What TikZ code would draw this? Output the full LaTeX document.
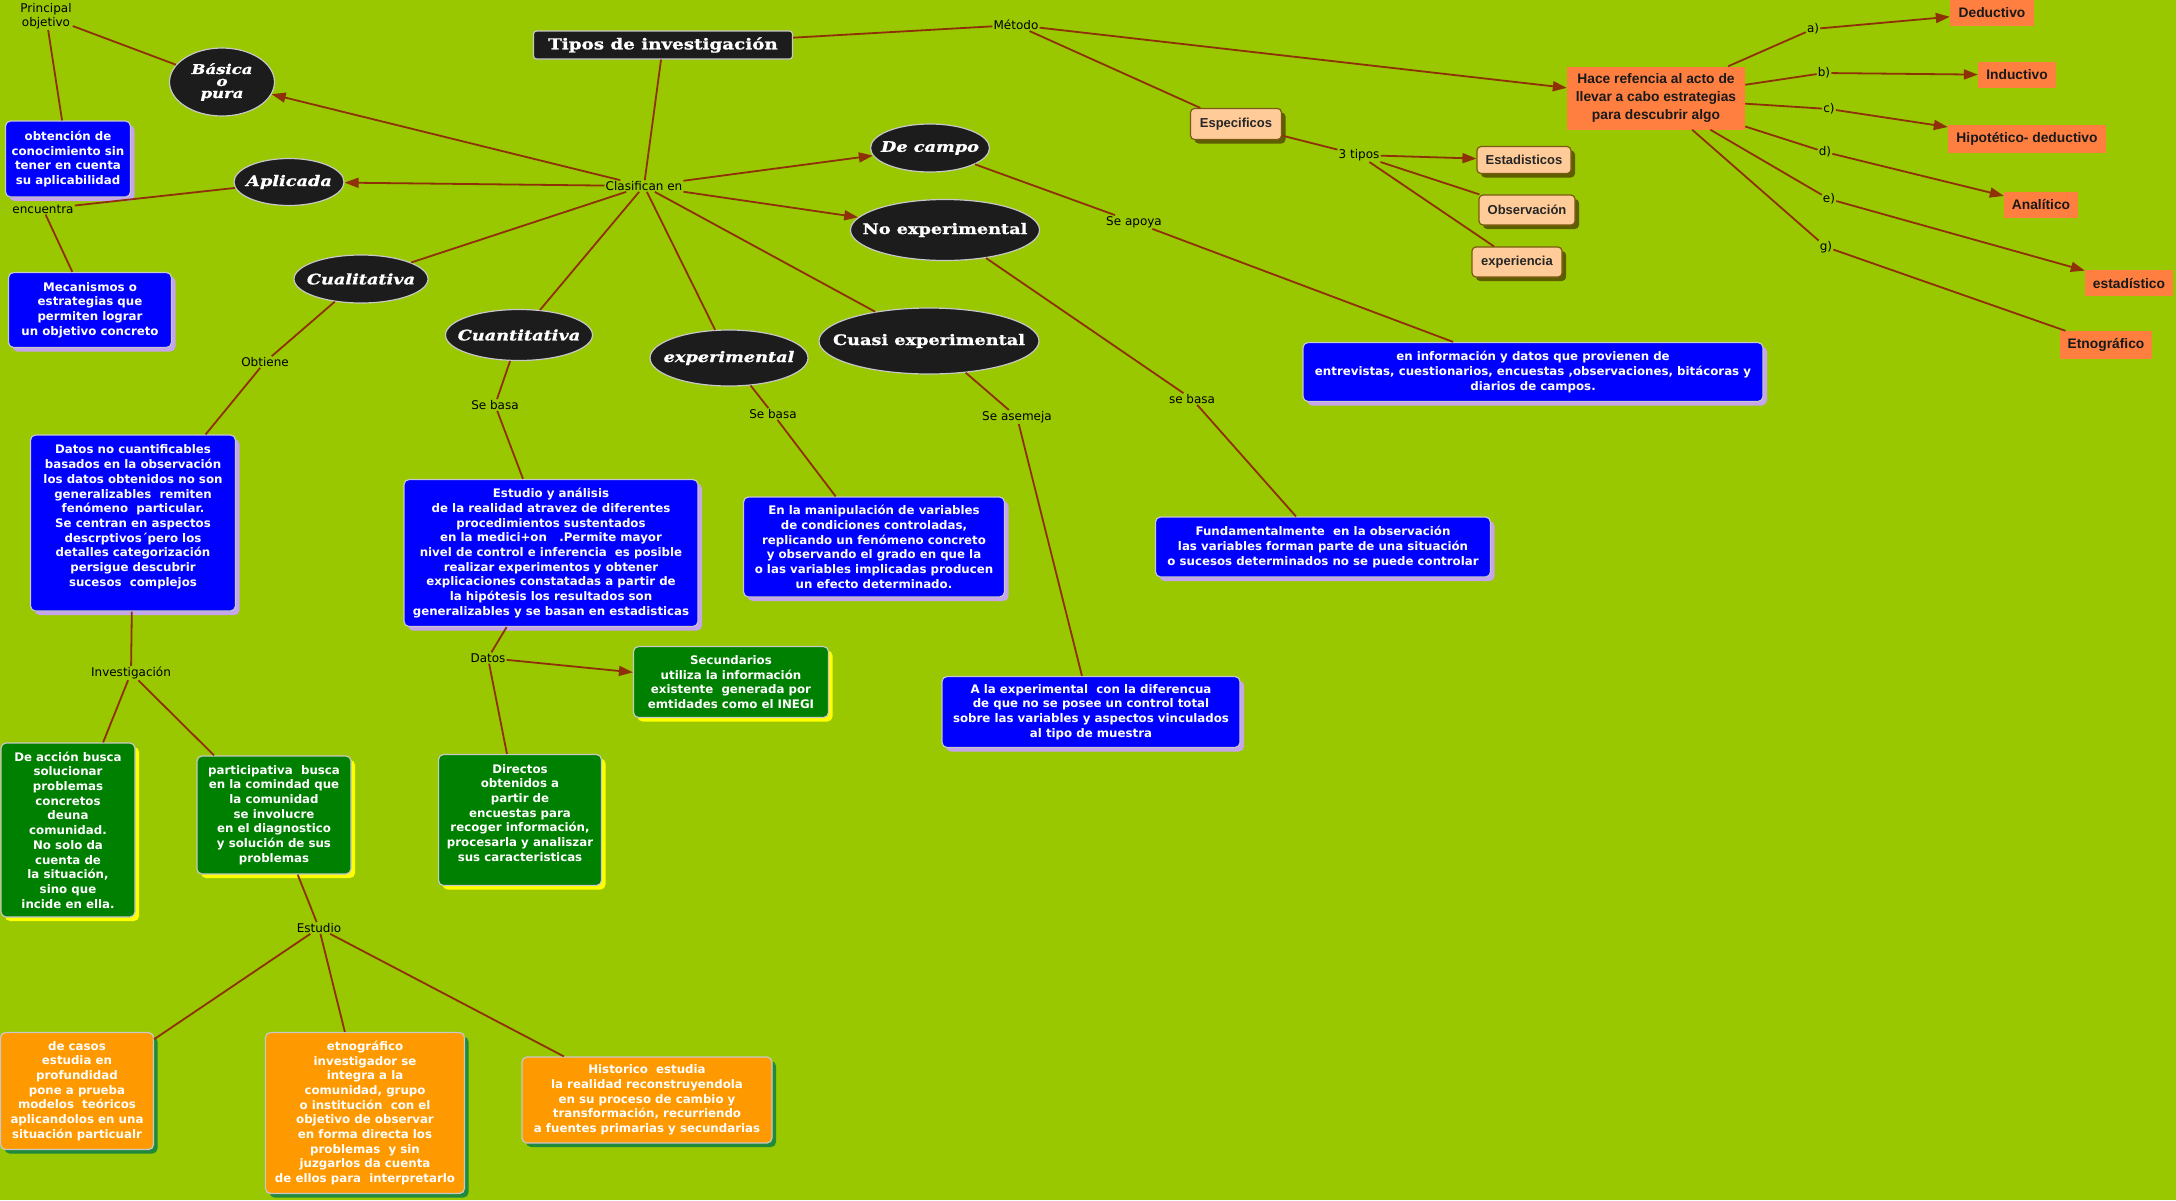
\documentclass[tikz,border=0pt]{standalone}
\usepackage{fontspec}
\setmainfont{DejaVu Sans}
\newfontfamily\titlefont{DejaVu Serif}[FakeStretch=1.22,FakeBold=1.2]
\newfontfamily\arialfont{Liberation Sans}
\usetikzlibrary{arrows.meta,shapes.geometric,shadows}
\definecolor{Lime}{HTML}{99C800}
\definecolor{Brick}{HTML}{8E3008}
\definecolor{Coal}{HTML}{1C1C1C}
\definecolor{Silver}{HTML}{C8C8C8}
\definecolor{BoxBlue}{HTML}{0000FF}
\definecolor{Lilac}{HTML}{C6A4EE}
\definecolor{BoxGreen}{HTML}{008000}
\definecolor{Lemon}{HTML}{FFFF00}
\definecolor{BoxOrange}{HTML}{FF9900}
\definecolor{Shade}{HTML}{1F8A3C}
\definecolor{Coral}{HTML}{FF7F40}
\definecolor{Peach}{HTML}{FFCC99}
\definecolor{Olive}{HTML}{7A5A10}
\definecolor{Moss}{HTML}{5E5E00}

\begin{document}
\begin{tikzpicture}[x=1pt,y=-1pt,
  sz/.style 2 args={minimum width=#1pt,minimum height=#2pt},
  link/.style={Brick,line width=1.8pt},
  tip/.style={link,-{Triangle[length=14pt,width=10pt]}},
  lbl/.style={inner sep=1pt,align=center,font=\fontsize{12}{14}\selectfont},
  tipo/.style={ellipse,fill=Coal,draw=Silver,line width=1.2pt,text=white,inner xsep=-30pt,inner ysep=0pt,align=center,
    font=\titlefont\bfseries\fontsize{14.5}{12.5}\selectfont},
  tipoit/.style={tipo,font=\titlefont\bfseries\itshape\fontsize{14.5}{12.5}\selectfont},
  box/.style={rectangle,rounded corners=5pt,draw=Silver,line width=1.2pt,text=white,inner sep=2pt,align=center,
    font=\bfseries\fontsize{11.8}{14.7}\selectfont},
  bluebox/.style={box,fill=BoxBlue,drop shadow={shadow xshift=4pt,shadow yshift=-4pt,fill=Lilac,opacity=1}},
  greenbox/.style={box,fill=BoxGreen,drop shadow={shadow xshift=4pt,shadow yshift=-4pt,fill=Lemon,opacity=1}},
  orangebox/.style={box,fill=BoxOrange,drop shadow={shadow xshift=4pt,shadow yshift=-4pt,fill=Shade,opacity=1}},
  peach/.style={rectangle,rounded corners=4pt,fill=Peach,draw=Olive,line width=1.2pt,text=black!85,inner sep=2pt,
    font=\arialfont\bfseries\fontsize{13}{15}\selectfont,drop shadow={shadow xshift=4pt,shadow yshift=-4pt,fill=Moss,opacity=1}},
  metbox/.style={rectangle,fill=Coral,text=black!90,inner sep=2pt,align=center,
    font=\arialfont\bfseries\fontsize{13.8}{18}\selectfont}]
  \path[use as bounding box,fill=Lime] (0,0) rectangle (2176,1200);

  % main types
  \node[tipo,sz={259}{28},rectangle,rounded corners=3pt,inner xsep=2pt,font=\titlefont\bfseries\fontsize{15}{14}\selectfont] (tipos) at (663,45) {Tipos de investigación};
  \node[tipoit,sz={105}{68},font=\titlefont\bfseries\itshape\fontsize{13.5}{12}\selectfont] (basica) at (222,82) {Básica\\o\\pura};
  \node[tipoit,sz={110}{47}] (aplicada) at (289,182) {Aplicada};
  \node[tipoit,sz={134}{48}] (cualitativa) at (361,279) {Cualitativa};
  \node[tipoit,sz={147}{51}] (cuantitativa) at (519,335) {Cuantitativa};
  \node[tipoit,sz={158}{56}] (experimental) at (729,358) {experimental};
  \node[tipo,sz={220}{66}] (cuasi) at (929,341) {Cuasi experimental};
  \node[tipoit,sz={119}{48}] (decampo) at (930,148) {De campo};
  \node[tipo,sz={189}{61}] (noexp) at (945,230) {No experimental};

  % link words
  \node[lbl] (principal) at (46,16) {Principal\\objetivo};
  \node[lbl] (clas) at (644,186) {Clasifican en};
  \node[lbl] (encuentra) at (43,209) {encuentra};
  \node[lbl] (obtiene) at (265,362) {Obtiene};
  \node[lbl] (sebasaA) at (495,405) {Se basa};
  \node[lbl] (sebasaB) at (773,414) {Se basa};
  \node[lbl] (seasemeja) at (1017,417) {Se asemeja};
  \node[lbl] (sebasaC) at (1192,399) {se basa};
  \node[lbl] (seapoya) at (1134,222) {Se apoya};
  \node[lbl] (metodo) at (1016,25) {Método};
  \node[lbl] (tres) at (1359,155) {3 tipos};
  \node[lbl] (datos) at (488,658) {Datos};
  \node[lbl] (investigacion) at (131,673) {Investigación};
  \node[lbl] (estudio) at (319,928) {Estudio};
  \node[lbl] (la) at (1813,29) {a)};
  \node[lbl] (lb) at (1824,73) {b)};
  \node[lbl] (lc) at (1829,109) {c)};
  \node[lbl] (ld) at (1825,152) {d)};
  \node[lbl] (le) at (1829,199) {e)};
  \node[lbl] (lg) at (1826,247) {g)};

  % blue boxes
  \node[bluebox,sz={125}{76}] (obtencion) at (68,159) {obtención de\\conocimiento sin\\tener en cuenta\\su aplicabilidad};
  \node[bluebox,sz={163}{75}] (mecanismos) at (90,310) {Mecanismos o\\estrategias que\\permiten lograr\\un objetivo concreto};
  \node[bluebox,sz={205}{176}] (datosno) at (133,523) {Datos no cuantificables\\basados en la observación\\los datos obtenidos no son\\generalizables\ \ remiten\\fenómeno\ \ particular.\\Se centran en aspectos\\descrptivos´pero los\\detalles categorización\\persigue descubrir\\sucesos\ \ complejos\\ };
  \node[bluebox,sz={294}{147}] (analisis) at (551,553) {Estudio y análisis\\de la realidad atravez de diferentes\\procedimientos sustentados\\en la medici+on\ \ \ .Permite mayor\\nivel de control e inferencia\ \ es posible\\realizar experimentos y obtener\\explicaciones constatadas a partir de\\la hipótesis los resultados son\\generalizables y se basan en estadisticas};
  \node[bluebox,sz={261}{100}] (manipulacion) at (874,547) {En la manipulación de variables\\de condiciones controladas,\\replicando un fenómeno concreto\\y observando el grado en que la\\o las variables implicadas producen\\un efecto determinado.};
  \node[bluebox,sz={460}{59}] (informacion) at (1533,372) {en información y datos que provienen de\\entrevistas, cuestionarios, encuestas ,observaciones, bitácoras y\\diarios de campos.};
  \node[bluebox,sz={335}{60}] (fundamental) at (1323,547) {Fundamentalmente\ \ en la observación\\las variables forman parte de una situación\\o sucesos determinados no se puede controlar};
  \node[bluebox,sz={298}{71}] (alaexp) at (1091,712) {A la experimental\ \ con la diferencua\\de que no se posee un control total\\sobre las variables y aspectos vinculados\\al tipo de muestra};

  % green boxes
  \node[greenbox,sz={195}{71}] (secundarios) at (731,682) {Secundarios\\utiliza la información\\existente\ \ generada por\\emtidades como el INEGI};
  \node[greenbox,sz={163}{131}] (directos) at (520,820) {Directos\\obtenidos a\\partir de\\encuestas para\\recoger información,\\procesarla y analiszar\\sus caracteristicas\\ };
  \node[greenbox,sz={134}{174}] (deaccion) at (68,830) {De acción busca\\solucionar\\problemas\\concretos\\deuna\\comunidad.\\No solo da\\cuenta de\\la situación,\\sino que\\incide en ella.};
  \node[greenbox,sz={154}{118}] (participativa) at (274,815) {participativa\ \ busca\\en la comindad que\\la comunidad\\se involucre\\en el diagnostico\\y solución de sus\\problemas};

  % orange boxes
  \node[orangebox,sz={153}{117}] (casos) at (77,1091) {de casos\\estudia en\\profundidad\\pone a prueba\\modelos\ \ teóricos\\aplicandolos en una\\situación particualr};
  \node[orangebox,sz={199}{161}] (etno) at (365,1113) {etnográfico\\investigador se\\integra a la\\comunidad, grupo\\o institución\ \ con el\\objetivo de observar\\en forma directa los\\problemas\ \ y sin\\juzgarlos da cuenta\\de ellos para\ \ interpretarlo};
  \node[orangebox,sz={250}{86}] (historico) at (647,1100) {Historico\ \ estudia\\la realidad reconstruyendola\\en su proceso de cambio y\\transformación, recurriendo\\a fuentes primarias y secundarias};

  % method side
  \node[peach,sz={91}{31}] (especificos) at (1236,124) {Especificos};
  \node[peach,sz={94}{27}] (estadisticos) at (1524,160) {Estadisticos};
  \node[peach,sz={96}{30}] (observacion) at (1527,210) {Observación};
  \node[peach,sz={90}{30}] (experiencia) at (1517,262) {experiencia};
  \node[metbox,sz={178}{63}] (hace) at (1656,98) {Hace refencia al acto de\\llevar a cabo estrategias\\para descubrir algo};
  \node[metbox,sz={84}{26}] (deductivo) at (1992,13) {Deductivo};
  \node[metbox,sz={78}{26}] (inductivo) at (2017,75) {Inductivo};
  \node[metbox,sz={158}{28}] (hipotetico) at (2027,139) {Hipotético- deductivo};
  \node[metbox,sz={74}{26}] (analitico) at (2041,205) {Analítico};
  \node[metbox,sz={88}{26}] (estadistico) at (2129,283) {estadístico};
  \node[metbox,sz={92}{28}] (etnografico) at (2106,345) {Etnográfico};

  % connectors
  \draw[link] (tipos) -- (clas);
  \draw[link] (tipos) -- (metodo);
  \draw[tip] (metodo) -- (hace);
  \draw[link] (metodo) -- (especificos);
  \draw[link] (especificos) -- (tres);
  \draw[tip] (tres) -- (estadisticos);
  \draw[link] (tres) -- (observacion);
  \draw[link] (tres) -- (experiencia);
  \foreach \l/\m in {la/deductivo,lb/inductivo,lc/hipotetico,ld/analitico,le/estadistico}
    \draw[link] (hace) -- (\l) (\l) edge[tip] (\m);
  \draw[link] (hace) -- (lg) -- (etnografico);
  \foreach \t in {basica,aplicada,decampo,noexp}
    \draw[tip] (clas) -- (\t);
  \foreach \t in {cualitativa,cuantitativa,experimental,cuasi}
    \draw[link] (clas) -- (\t);
  \draw[link] (basica) -- (principal) -- (obtencion);
  \draw[link] (aplicada) -- (encuentra) -- (mecanismos);
  \draw[link] (cualitativa) -- (obtiene) -- (datosno);
  \draw[link] (datosno) -- (investigacion) -- (deaccion);
  \draw[link] (investigacion) -- (participativa);
  \draw[link] (participativa) -- (estudio);
  \foreach \t in {casos,etno,historico}
    \draw[link] (estudio) -- (\t);
  \draw[link] (cuantitativa) -- (sebasaA) -- (analisis);
  \draw[link] (analisis) -- (datos) -- (directos);
  \draw[tip] (datos) -- (secundarios);
  \draw[link] (experimental) -- (sebasaB) -- (manipulacion);
  \draw[link] (cuasi) -- (seasemeja) -- (alaexp);
  \draw[link] (noexp) -- (sebasaC) -- (fundamental);
  \draw[link] (decampo) -- (seapoya) -- (informacion);
\end{tikzpicture}
\end{document}
